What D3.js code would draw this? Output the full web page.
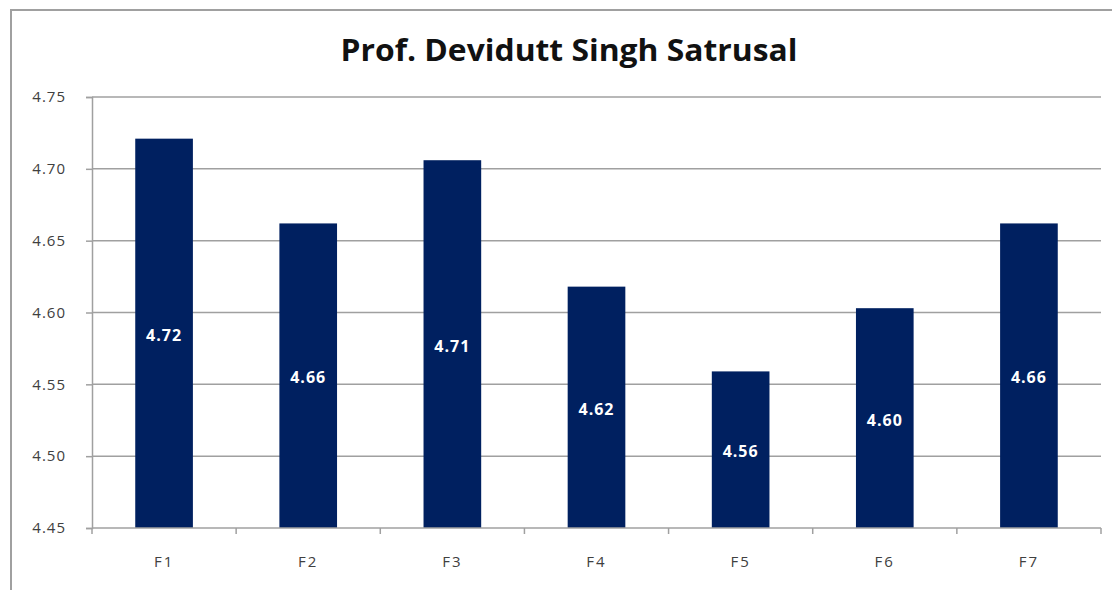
<!DOCTYPE html>
<html lang="en">
<head>
  <meta charset="UTF-8">
  <title>Prof. Devidutt Singh Satrusal</title>
  <script src="https://d3js.org/d3.v7.min.js"></script>
  <style>
    body { margin: 0; background: #fff; }
    svg { display: block; }
    .tick text { font-family: 'Open Sans', sans-serif; fill: #404040; }
  </style>
</head>
<body>
  <script>
    // chart data
    const categories = ["F1", "F2", "F3", "F4", "F5", "F6", "F7"];
    const values = [4.721, 4.662, 4.706, 4.618, 4.559, 4.603, 4.662];
    const yTicks = [4.45, 4.50, 4.55, 4.60, 4.65, 4.70, 4.75];
    const title = "Prof. Devidutt Singh Satrusal";

    const width = 1112, height = 590;
    const plotLeft = 92, plotRight = 1101, plotTop = 97, plotBottom = 528;

    const svg = d3.select("body").append("svg")
      .attr("width", width)
      .attr("height", height);

    // outer chart frame (cropped at right/bottom)
    svg.append("rect")
      .attr("x", 11).attr("y", 10)
      .attr("width", 1120).attr("height", 600)
      .attr("fill", "none")
      .attr("stroke", "#a0a0a0")
      .attr("stroke-width", 2);

    svg.append("text")
      .attr("x", 569).attr("y", 61)
      .attr("text-anchor", "middle")
      .attr("textLength", 457)
      .attr("lengthAdjust", "spacingAndGlyphs")
      .style("font-family", "'Open Sans', sans-serif")
      .style("font-weight", "bold")
      .style("font-size", "30px")
      .attr("fill", "#111")
      .text(title);

    const x = d3.scaleBand()
      .domain(categories)
      .range([plotLeft, plotRight])
      .paddingInner(0.6)
      .paddingOuter(0.3);

    const y = d3.scaleLinear()
      .domain([4.45, 4.75])
      .range([plotBottom, plotTop]);

    // gridlines
    svg.append("g")
      .selectAll("line")
      .data(yTicks.slice(1))
      .join("line")
      .attr("x1", plotLeft).attr("x2", plotRight)
      .attr("y1", d => y(d)).attr("y2", d => y(d))
      .attr("stroke", "#a0a0a0")
      .attr("stroke-width", 1.5);

    // y axis
    const yAxis = svg.append("g")
      .attr("transform", `translate(${plotLeft},0)`)
      .call(d3.axisLeft(y).tickValues(yTicks).tickFormat(d3.format(".2f")).tickSize(6).tickPadding(20));
    yAxis.select(".domain").attr("stroke", "#a0a0a0").attr("stroke-width", 1.5);
    yAxis.selectAll(".tick line").attr("stroke", "#a0a0a0").attr("stroke-width", 1.5);
    yAxis.selectAll(".tick text").style("font-size", "15px").style("letter-spacing", "1px");

    // bars
    svg.append("g")
      .selectAll("rect")
      .data(values)
      .join("rect")
      .attr("x", (d, i) => x(categories[i]))
      .attr("y", d => y(d))
      .attr("width", x.bandwidth())
      .attr("height", d => plotBottom - y(d))
      .attr("fill", "#002060");

    // value labels
    svg.append("g")
      .selectAll("text")
      .data(values)
      .join("text")
      .attr("x", (d, i) => x(categories[i]) + x.bandwidth() / 2)
      .attr("y", d => (y(d) + plotBottom) / 2 + 2)
      .attr("dy", "0.35em")
      .attr("text-anchor", "middle")
      .style("font-family", "'Open Sans', sans-serif")
      .style("font-weight", "bold")
      .style("font-size", "16px")
      .style("letter-spacing", "1px")
      .attr("fill", "#fff")
      .text(d => d3.format(".2f")(d));

    // x axis with ticks between categories
    const step = x.step();
    const xAxis = svg.append("g")
      .attr("transform", `translate(0,${plotBottom})`);
    xAxis.append("line")
      .attr("x1", plotLeft).attr("x2", plotRight)
      .attr("stroke", "#a0a0a0").attr("stroke-width", 1.5);
    xAxis.selectAll(".xt")
      .data(d3.range(categories.length + 1))
      .join("line")
      .attr("class", "xt")
      .attr("x1", i => plotLeft + i * step).attr("x2", i => plotLeft + i * step)
      .attr("y1", 0).attr("y2", 6)
      .attr("stroke", "#a0a0a0").attr("stroke-width", 1.5);
    xAxis.selectAll(".xl")
      .data(categories)
      .join("text")
      .attr("class", "xl")
      .attr("x", d => x(d) + x.bandwidth() / 2)
      .attr("y", 39)
      .attr("text-anchor", "middle")
      .style("font-family", "'Open Sans', sans-serif")
      .style("font-size", "15px")
      .style("letter-spacing", "2px")
      .attr("fill", "#404040")
      .text(d => d);
  </script>
</body>
</html>
